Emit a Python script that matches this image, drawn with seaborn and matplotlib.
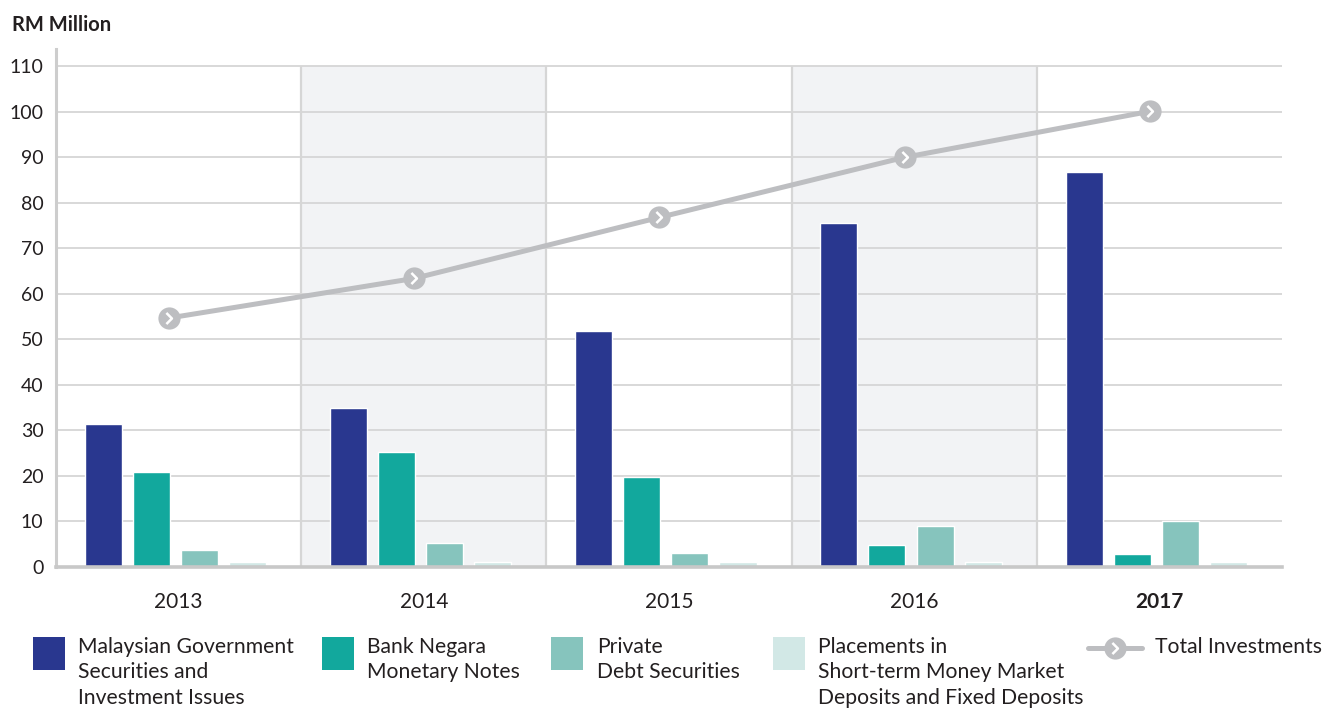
import numpy as np
import pandas as pd
import matplotlib
matplotlib.use("Agg")
import matplotlib.pyplot as plt
from matplotlib.patches import Rectangle
from matplotlib.lines import Line2D
from matplotlib.path import Path
import seaborn as sns

# ---- data (RM Million) ----
years = ["2013", "2014", "2015", "2016", "2017"]
series_names = [
    "Malaysian Government\nSecurities and\nInvestment Issues",
    "Bank Negara\nMonetary Notes",
    "Private\nDebt Securities",
    "Placements in\nShort-term Money Market\nDeposits and Fixed Deposits",
]
mgs = [31.4, 34.9, 51.8, 75.5, 86.7]
bnmn = [20.9, 25.2, 19.8, 4.8, 2.9]
pds = [3.7, 5.3, 3.1, 9.0, 10.1]
placements = [1.1, 1.1, 1.1, 1.1, 1.1]
total_investments = [54.7, 63.4, 76.8, 90.0, 100.1]
yticks = list(range(0, 111, 10))

colors = ["#29378F", "#12A89D", "#86C4BD", "#D2E8E6"]
line_color = "#BDBEC1"
grid_color = "#D6D6D6"
band_color = "#F2F3F5"
text_color = "#231F20"

sns.set_theme(style="white")
plt.rcParams["font.family"] = ["Lato", "DejaVu Sans"]

df = pd.DataFrame({
    "year": np.tile(years, 4),
    "series": np.repeat(series_names, len(years)),
    "value": mgs + bnmn + pds + placements,
})

fig = plt.figure(figsize=(13.23, 7.08), dpi=100)
ax = fig.add_axes([56 / 1323, 141 / 708, (1282 - 56) / 1323, (567 - 49) / 708])

xmin, xmax = -0.487, 4.513
top = 110

# alternating shaded bands and column separators
for k in range(5):
    left = xmin + k
    if k % 2 == 1:
        ax.fill_between([left, left + 1], 0, top, color=band_color, zorder=0, lw=0)
    if k > 0:
        ax.plot([left, left], [0, top], color=grid_color, lw=1.6, zorder=0.5,
                solid_capstyle="butt")

# horizontal gridlines
for t in yticks[1:]:
    ax.plot([xmin, xmax], [t, t], color=grid_color, lw=1.3, zorder=0.6,
            solid_capstyle="butt")

sns.barplot(data=df, x="year", y="value", hue="series", order=years,
            hue_order=series_names, palette=colors, width=0.785, gap=0.23,
            legend=False, ax=ax, zorder=2, saturation=1, errorbar=None)

# total investments line with chevron markers
xline = np.arange(len(years)) - 0.026
chevron = Path([(-0.28, 0.5), (0.22, 0.0), (-0.28, -0.5)],
               [Path.MOVETO, Path.LINETO, Path.LINETO])
sns.lineplot(x=xline, y=total_investments, color=line_color, lw=3.6, ax=ax,
             zorder=3, marker="o", markersize=16, markeredgewidth=0,
             markerfacecolor=line_color)
ax.plot(xline, total_investments, ls="none", marker=chevron, markersize=8,
        markerfacecolor="none", markeredgecolor="white", markeredgewidth=1.8,
        zorder=4)

ax.set_xlim(xmin, xmax)
ax.set_ylim(0, 113.8)
ax.set_yticks(yticks)
ax.set_yticklabels([str(t) for t in yticks], fontsize=14, color=text_color)
ax.set_xticks([xmin + k + 0.5 for k in range(len(years))])
ax.set_xticklabels(years, fontsize=15, color=text_color)
ax.get_xticklabels()[-1].set_fontweight("bold")
ax.tick_params(axis="x", length=0, pad=18)
ax.tick_params(axis="y", length=0, pad=9)
ax.set_xlabel("")
ax.set_ylabel("")

for side in ["top", "right"]:
    ax.spines[side].set_visible(False)
ax.spines["left"].set_color("#CDCDCD")
ax.spines["left"].set_linewidth(2.2)
ax.spines["bottom"].set_color("#C8C8C8")
ax.spines["bottom"].set_linewidth(2.6)
ax.spines["bottom"].set_zorder(5)

fig.text(12 / 1323, 1 - 25 / 708, "RM Million", fontsize=14.5, fontweight="bold",
         color=text_color, va="center", ha="left")

# legend
W, H = 1323, 708
square_x = [33, 322, 551, 773]
text_x = [78, 367, 597, 818]
for sx, tx, c, name in zip(square_x, text_x, colors, series_names):
    fig.add_artist(Rectangle((sx / W, 1 - 670 / H), 32 / W, 33 / H,
                             transform=fig.transFigure, color=c, lw=0))
    fig.text(tx / W, 1 - 637 / H, name, fontsize=15.2, color=text_color,
             va="top", ha="left", linespacing=1.33)

ly = 1 - 648 / H
fig.add_artist(Line2D([1088 / W, 1142 / W], [ly, ly], transform=fig.transFigure,
                      color=line_color, lw=3.6, solid_capstyle="round"))
fig.add_artist(Line2D([1115 / W], [ly], transform=fig.transFigure, color=line_color,
                      marker="o", markersize=16, markeredgewidth=0))
fig.add_artist(Line2D([1115 / W], [ly], transform=fig.transFigure, ls="none",
                      marker=chevron, markersize=8, markerfacecolor="none",
                      markeredgecolor="white", markeredgewidth=1.8))
fig.text(1155 / W, 1 - 637 / H, "Total Investments", fontsize=15.2, color=text_color,
         va="top", ha="left")

fig.savefig("out.png", dpi=100, facecolor="white")
